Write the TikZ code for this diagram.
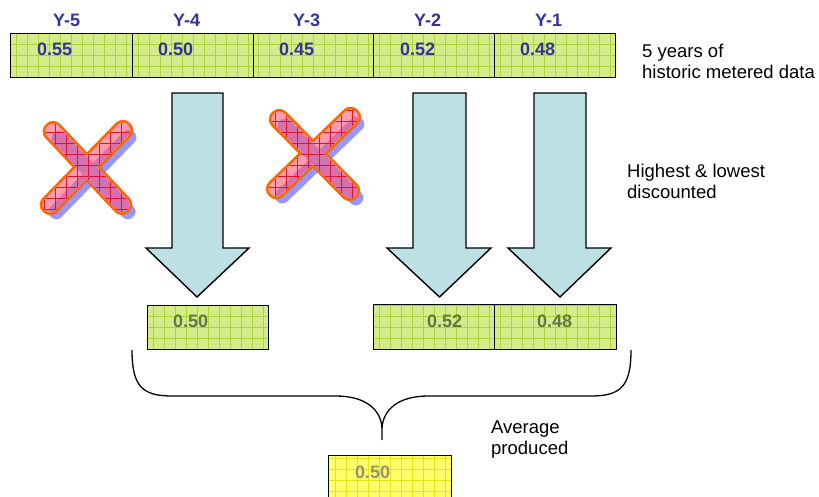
\documentclass[tikz,border=0pt]{standalone}
\usepackage{fontspec}
\setmainfont{Liberation Sans}
\usetikzlibrary{calc}

\definecolor{labelblue}{RGB}{51,51,153}
\definecolor{cellgreen}{RGB}{212,236,140}
\definecolor{cellgrid}{RGB}{170,214,60}
\definecolor{cellyellow}{RGB}{255,255,110}
\definecolor{yellowgrid}{RGB}{232,228,20}
\definecolor{keptval}{RGB}{98,120,72}
\definecolor{avgval}{RGB}{150,150,95}
\definecolor{arrowblue}{RGB}{188,224,227}
\definecolor{xorange}{RGB}{255,102,0}
\definecolor{xpink}{RGB}{255,90,120}
\definecolor{xshadow}{RGB}{150,150,255}
\definecolor{xgrid}{RGB}{220,20,50}

% outline of one bar of a cross, from end #1 to end #2
\newcommand{\xbar}[2]{($(#1)!7.5pt!90:(#2)$) -- ($(#2)!7.5pt!-90:(#1)$) -- ($(#2)!7.5pt!90:(#1)$) -- ($(#1)!7.5pt!-90:(#2)$) -- cycle}

% a hand-drawn cross with a soft shadow
\newcommand{\crossmark}[4]{%
  \begin{scope}[transform canvas={shift={(6pt,-7pt)}}]
    \fill[xshadow, rounded corners=7pt] \xbar{#1}{#2};
    \fill[xshadow, rounded corners=7pt] \xbar{#3}{#4};
  \end{scope}
  \draw[xorange, line width=5.5pt, rounded corners=7pt] \xbar{#1}{#2} \xbar{#3}{#4};
  \fill[white, rounded corners=7pt] \xbar{#1}{#2};
  \fill[white, rounded corners=7pt] \xbar{#3}{#4};
  \begin{scope}
    \clip[rounded corners=7pt] \xbar{#1}{#2};
    \begin{scope}[transform canvas={shift={(6pt,-7pt)}}]
      \fill[xshadow, rounded corners=7pt] \xbar{#1}{#2};
      \fill[xshadow, rounded corners=7pt] \xbar{#3}{#4};
    \end{scope}
    \fill[xpink, fill opacity=0.6] (0,0) rectangle (819,496);
    \draw[xgrid, line width=0.6pt, step=11pt] (0,0) grid (819,496);
  \end{scope}
  \begin{scope}
    \clip[rounded corners=7pt] \xbar{#3}{#4};
    \begin{scope}[transform canvas={shift={(6pt,-7pt)}}]
      \fill[xshadow, rounded corners=7pt] \xbar{#1}{#2};
      \fill[xshadow, rounded corners=7pt] \xbar{#3}{#4};
    \end{scope}
    \fill[xpink, fill opacity=0.6] (0,0) rectangle (819,496);
    \draw[xgrid, line width=0.6pt, step=11pt] (0,0) grid (819,496);
  \end{scope}
}

\begin{document}
\begin{tikzpicture}[x=1pt, y=-1pt,
  cell/.style={draw=black, line width=1.4pt, fill=cellgreen, inner sep=0pt,
    minimum height=44pt, anchor=north west,
    path picture={\draw[cellgrid, line width=0.6pt, step=11pt]
      (path picture bounding box.south west) grid (path picture bounding box.north east);}},
  avgcell/.style={draw=black, line width=1.4pt, fill=cellyellow, inner sep=0pt,
    minimum height=50pt, anchor=north west,
    path picture={\draw[yellowgrid, line width=0.6pt, step=11pt]
      (path picture bounding box.south west) grid (path picture bounding box.north east);}},
  yearlabel/.style={font=\fontsize{18}{21}\selectfont\bfseries, text=labelblue, anchor=base west, inner sep=0pt},
  topval/.style={yearlabel},
  keptlabel/.style={font=\fontsize{18}{21}\selectfont\bfseries, text=keptval, anchor=base west, inner sep=0pt},
  avglabel/.style={font=\fontsize{18}{21}\selectfont\bfseries, text=avgval, anchor=base west, inner sep=0pt},
  note/.style={font=\fontsize{18.5}{21}\selectfont, align=left, anchor=base west, inner sep=0pt},
  blockarrow/.style={fill=arrowblue, draw=black, line width=1.4pt, line join=miter},
  brace/.style={draw=black, line width=1.3pt}
]
\useasboundingbox (0,0) rectangle (819,496);
\clip (0,0) rectangle (819,496);

% year headings
\node[yearlabel] (h5) at (53,26) {Y-5};
\node[yearlabel] (h4) at (173,26) {Y-4};
\node[yearlabel] (h3) at (293,26) {Y-3};
\node[yearlabel] (h2) at (414,26) {Y-2};
\node[yearlabel] (h1) at (535,26) {Y-1};

% metered values, one cell per year
\node[cell, minimum width=122pt] (y5) at (10,33) {};
\node[cell, minimum width=121pt] (y4) at (132,33) {};
\node[cell, minimum width=120pt] (y3) at (253,33) {};
\node[cell, minimum width=121pt] (y2) at (373,33) {};
\node[cell, minimum width=121pt] (y1) at (494,33) {};
\node[topval] (v5) at (37,55) {0.55};
\node[topval] (v4) at (158,55) {0.50};
\node[topval] (v3) at (279,55) {0.45};
\node[topval] (v2) at (400,55) {0.52};
\node[topval] (v1) at (520,55) {0.48};

% side notes (anchored on the baseline of their last line)
\node[note] (n1) at (642,78) {5 years of\\historic metered data};
\node[note] (n2) at (627,198) {Highest \& lowest\\discounted};
\node[note] (n3) at (491,454) {Average\\produced};

% discarded years
\coordinate (c1a) at (48,126);
\coordinate (c1b) at (127,210);
\coordinate (c1c) at (128,125);
\coordinate (c1d) at (45,210);
\crossmark{c1a}{c1b}{c1c}{c1d}
\coordinate (c2a) at (274,114);
\coordinate (c2b) at (355,196);
\coordinate (c2c) at (356,112);
\coordinate (c2d) at (271,194);
\crossmark{c2a}{c2b}{c2c}{c2d}

% block arrows carrying the kept years down
\draw[blockarrow] (172,93) -- (223,93) -- (223,248) -- (249,248) -- (197,297)
  -- (146,248) -- (172,248) -- cycle;
\draw[blockarrow] (413,93) -- (466,93) -- (466,248) -- (491,248) -- (439.5,297)
  -- (387,248) -- (413,248) -- cycle;
\draw[blockarrow] (534,93) -- (586,93) -- (586,248) -- (611,248) -- (560,297)
  -- (508,248) -- (534,248) -- cycle;

% kept values
\node[cell, minimum width=121pt] (k4) at (147,305) {};
\node[cell, minimum width=121pt, minimum height=45pt] (k2) at (373,304) {};
\node[cell, minimum width=122pt, minimum height=45pt] (k1) at (494,304) {};
\node[keptlabel] (kv4) at (173,327) {0.50};
\node[keptlabel] (kv2) at (427,327) {0.52};
\node[keptlabel] (kv1) at (537,327) {0.48};

% brace gathering the kept values
\coordinate (bl) at (132,350);
\coordinate (br) at (631,350);
\coordinate (bm) at (382,428);
\coordinate (bt) at (382,440);
\draw[brace] (bl) .. controls (132,386) and (142,396) .. (172,396) -- (336,396)
  .. controls (366,396) and (381,410) .. (bm) -- (bt);
\draw[brace] (br) .. controls (631,386) and (621,396) .. (591,396) -- (428,396)
  .. controls (398,396) and (383,410) .. (bm);

% resulting average
\node[avgcell, minimum width=123pt] (avg) at (328,455) {};
\node[avglabel] (avgv) at (355,478) {0.50};
\end{tikzpicture}
\end{document}
